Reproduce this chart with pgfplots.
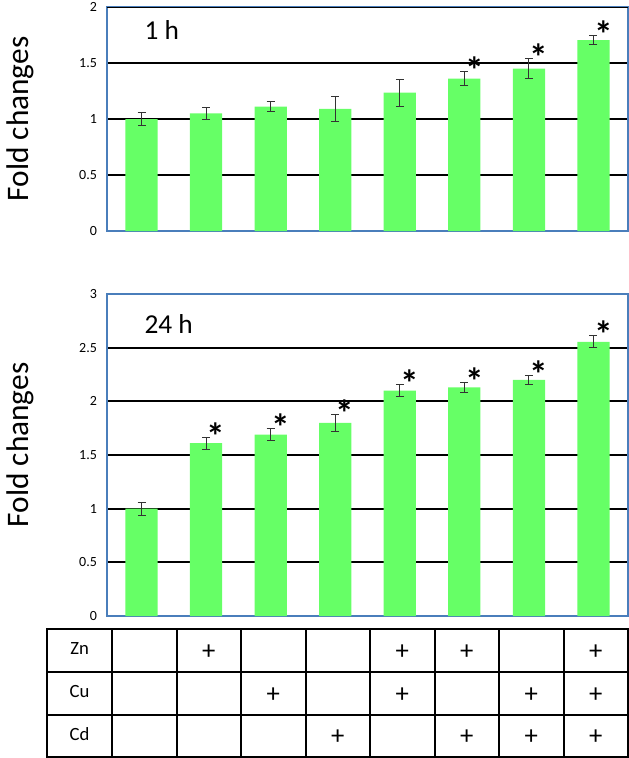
\documentclass[border=0pt]{standalone}
\usepackage{fontspec}
\setmainfont{Carlito}
\usepackage{pgfplots}
\pgfplotsset{compat=1.18}
\usepackage{pgfplotstable}

\definecolor{barg}{RGB}{102,255,102}
\definecolor{framec}{RGB}{74,126,187}

% fold changes, 1 h
\pgfplotstableread{
x y err
1 1.00 0.055
2 1.05 0.055
3 1.11 0.045
4 1.09 0.11
5 1.235 0.12
6 1.36 0.06
7 1.45 0.09
8 1.705 0.04
}\onehour

% fold changes, 24 h
\pgfplotstableread{
x y err
1 1.00 0.06
2 1.61 0.055
3 1.69 0.055
4 1.80 0.08
5 2.10 0.053
6 2.13 0.046
7 2.20 0.045
8 2.555 0.055
}\dayone

\pgfplotsset{
  panel/.style={
    scale only axis, width=390.75pt, anchor=north west,
    xmin=0.465, xmax=8.535, ymin=0,
    xtick=\empty, ytick distance=0.5,
    ymajorgrids, major grid style={black, line width=1.3pt},
    major tick length=0pt,
    axis line style={framec, line width=1.1pt},
    tick label style={font=\fontsize{10.5}{12}\selectfont},
    /pgf/number format/assume math mode=true,
    yticklabel style={xshift=-4pt},
    ylabel={Fold changes},
    every axis y label/.style={at={(axis description cs:-0.167,0.5)}, rotate=90,
      anchor=center, font=\fontsize{23.5}{28}\selectfont},
  },
  bars/.style={ybar, bar width=0.5, fill=barg, draw=none,
    error bars/.cd, y dir=both, y explicit,
    error bar style={line width=0.75pt, black!80},
    error mark options={rotate=90, mark size=3pt, line width=0.75pt, black!80}},
  stars/.style={draw=none, mark=none, nodes near coords={\textbf{*}},
    every node near coord/.style={anchor=base, xshift=7.5pt, yshift=-9pt,
      font=\fontsize{28}{32}\selectfont}},
}

\begin{document}
\begin{tikzpicture}
\useasboundingbox (0,0) rectangle (471.75pt,-568.5pt);

\begin{axis}[panel, at={(80.25pt,-5.25pt)}, height=168pt, ymax=2]
\addplot[bars] table[x=x, y=y, y error=err] {\onehour};
\addplot[stars] coordinates {(6,1.42) (7,1.54) (8,1.745)};
\draw[black, line width=1.3pt] (rel axis cs:0,1) -- (rel axis cs:1,1);
\node[anchor=base west, font=\fontsize{20.5}{24}\selectfont] at (axis description cs:0.063,0.853) {1 h};
\end{axis}

\begin{axis}[panel, at={(80.25pt,-220.5pt)}, height=241.5pt, ymax=3,
  every axis y label/.append style={at={(axis description cs:-0.167,0.531)}}]
\addplot[bars] table[x=x, y=y, y error=err] {\dayone};
\addplot[stars] coordinates {(2,1.665) (3,1.745) (4,1.88) (5,2.153) (6,2.176) (7,2.245) (8,2.61)};
\node[anchor=base west, font=\fontsize{20.5}{24}\selectfont] at (axis description cs:0.063,0.878) {24 h};
\end{axis}

% treatment table
\begin{scope}[x=0.75pt, y=-0.75pt, line width=1.5pt, font=\fontsize{14}{16}\selectfont]
\foreach \xx in {47.3,112,176.5,241,305.5,370,434.5,499,563.5,628}
  \draw (\xx,629.3) -- (\xx,757);
\foreach \yy in {629.3,672,714.7,757}
  \draw[line cap=rect] (47.3,\yy) -- (628,\yy);
\node at (79.6,649) {Zn};
\node at (79.6,692) {Cu};
\node at (79.6,734.5) {Cd};
\begin{scope}[font=\fontsize{20}{24}\selectfont]
\foreach \k in {2,5,6,8} \node at ({112+64.5*(\k-0.5)},652) {+};
\foreach \k in {3,5,7,8} \node at ({112+64.5*(\k-0.5)},695) {+};
\foreach \k in {4,6,7,8} \node at ({112+64.5*(\k-0.5)},737.5) {+};
\end{scope}
\end{scope}
\end{tikzpicture}
\end{document}
